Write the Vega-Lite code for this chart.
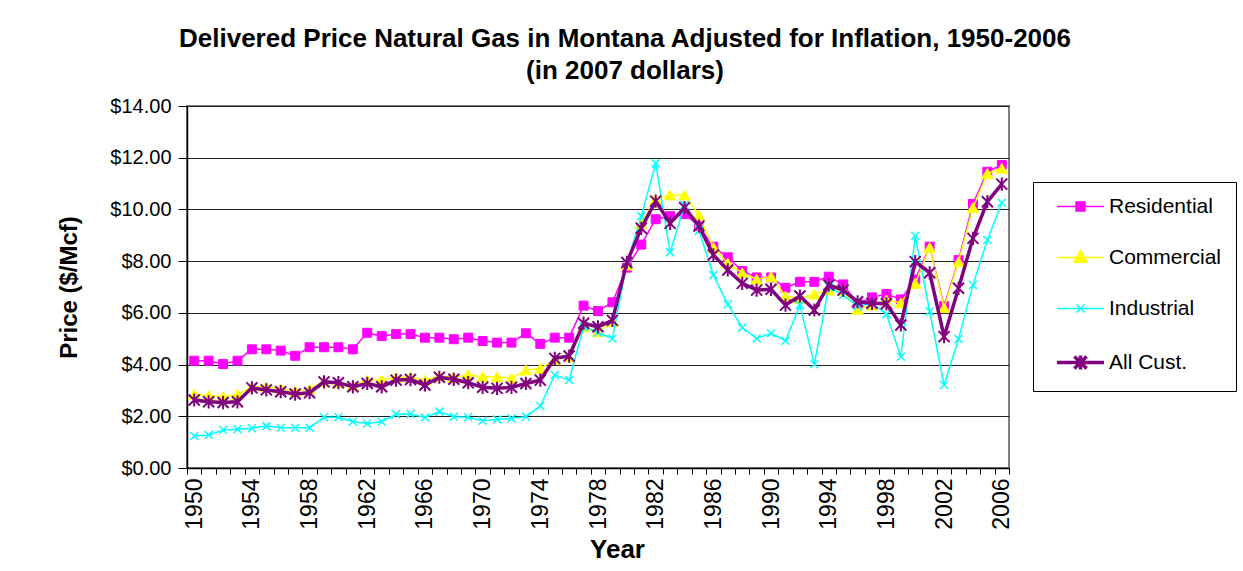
{
  "$schema": "https://vega.github.io/schema/vega-lite/v6.json",
  "width": 822,
  "height": 362,
  "autosize": {"type": "none"},
  "padding": {"left": 187, "top": 106, "right": 234, "bottom": 103},
  "background": "white",
  "title": {
    "text": ["Delivered Price Natural Gas in Montana Adjusted for Inflation, 1950-2006", "(in 2007 dollars)"],
    "font": "Liberation Sans",
    "fontSize": 26,
    "fontWeight": "bold",
    "color": "#000000",
    "anchor": "middle",
    "frame": "group",
    "dx": 27,
    "lineHeight": 32,
    "offset": 12
  },
  "config": {
    "view": {"stroke": "#808080", "strokeWidth": 2},
    "axis": {
      "labelFont": "Liberation Sans",
      "titleFont": "Liberation Sans",
      "labelColor": "#000000",
      "titleColor": "#000000",
      "domainColor": "#000000",
      "tickColor": "#000000",
      "domainWidth": 1.5,
      "tickWidth": 1
    },
    "legend": {"labelFont": "Liberation Sans"}
  },
  "data": {
    "values": [
      {"Year": 1950, "Residential": 4.15, "Commercial": 2.85, "Industrial": 1.24, "AllCust": 2.63},
      {"Year": 1951, "Residential": 4.15, "Commercial": 2.80, "Industrial": 1.28, "AllCust": 2.56},
      {"Year": 1952, "Residential": 4.02, "Commercial": 2.75, "Industrial": 1.47, "AllCust": 2.53},
      {"Year": 1953, "Residential": 4.15, "Commercial": 2.85, "Industrial": 1.50, "AllCust": 2.56},
      {"Year": 1954, "Residential": 4.59, "Commercial": 3.14, "Industrial": 1.54, "AllCust": 3.10},
      {"Year": 1955, "Residential": 4.59, "Commercial": 3.14, "Industrial": 1.62, "AllCust": 3.02},
      {"Year": 1956, "Residential": 4.54, "Commercial": 3.07, "Industrial": 1.56, "AllCust": 2.95},
      {"Year": 1957, "Residential": 4.34, "Commercial": 2.98, "Industrial": 1.56, "AllCust": 2.86},
      {"Year": 1958, "Residential": 4.67, "Commercial": 3.05, "Industrial": 1.56, "AllCust": 2.91},
      {"Year": 1959, "Residential": 4.67, "Commercial": 3.35, "Industrial": 1.96, "AllCust": 3.33},
      {"Year": 1960, "Residential": 4.67, "Commercial": 3.30, "Industrial": 1.96, "AllCust": 3.30},
      {"Year": 1961, "Residential": 4.59, "Commercial": 3.20, "Industrial": 1.79, "AllCust": 3.14},
      {"Year": 1962, "Residential": 5.23, "Commercial": 3.40, "Industrial": 1.72, "AllCust": 3.27},
      {"Year": 1963, "Residential": 5.10, "Commercial": 3.40, "Industrial": 1.79, "AllCust": 3.14},
      {"Year": 1964, "Residential": 5.18, "Commercial": 3.51, "Industrial": 2.08, "AllCust": 3.40},
      {"Year": 1965, "Residential": 5.18, "Commercial": 3.51, "Industrial": 2.09, "AllCust": 3.42},
      {"Year": 1966, "Residential": 5.04, "Commercial": 3.40, "Industrial": 1.95, "AllCust": 3.21},
      {"Year": 1967, "Residential": 5.04, "Commercial": 3.55, "Industrial": 2.18, "AllCust": 3.51},
      {"Year": 1968, "Residential": 4.98, "Commercial": 3.51, "Industrial": 1.98, "AllCust": 3.43},
      {"Year": 1969, "Residential": 5.04, "Commercial": 3.60, "Industrial": 1.96, "AllCust": 3.30},
      {"Year": 1970, "Residential": 4.91, "Commercial": 3.53, "Industrial": 1.83, "AllCust": 3.12},
      {"Year": 1971, "Residential": 4.85, "Commercial": 3.53, "Industrial": 1.88, "AllCust": 3.08},
      {"Year": 1972, "Residential": 4.85, "Commercial": 3.47, "Industrial": 1.92, "AllCust": 3.12},
      {"Year": 1973, "Residential": 5.21, "Commercial": 3.79, "Industrial": 1.98, "AllCust": 3.27},
      {"Year": 1974, "Residential": 4.80, "Commercial": 3.85, "Industrial": 2.40, "AllCust": 3.40},
      {"Year": 1975, "Residential": 5.04, "Commercial": 4.20, "Industrial": 3.60, "AllCust": 4.24},
      {"Year": 1976, "Residential": 5.04, "Commercial": 4.30, "Industrial": 3.40, "AllCust": 4.33},
      {"Year": 1977, "Residential": 6.28, "Commercial": 5.46, "Industrial": 5.46, "AllCust": 5.60},
      {"Year": 1978, "Residential": 6.07, "Commercial": 5.27, "Industrial": 5.23, "AllCust": 5.46},
      {"Year": 1979, "Residential": 6.41, "Commercial": 5.66, "Industrial": 5.01, "AllCust": 5.71},
      {"Year": 1980, "Residential": 7.75, "Commercial": 7.85, "Industrial": 7.92, "AllCust": 7.95},
      {"Year": 1981, "Residential": 8.64, "Commercial": 9.46, "Industrial": 9.74, "AllCust": 9.27},
      {"Year": 1982, "Residential": 9.62, "Commercial": 10.39, "Industrial": 11.78, "AllCust": 10.32},
      {"Year": 1983, "Residential": 9.74, "Commercial": 10.56, "Industrial": 8.34, "AllCust": 9.46},
      {"Year": 1984, "Residential": 9.82, "Commercial": 10.56, "Industrial": 10.17, "AllCust": 10.07},
      {"Year": 1985, "Residential": 9.36, "Commercial": 9.78, "Industrial": 9.18, "AllCust": 9.36},
      {"Year": 1986, "Residential": 8.56, "Commercial": 8.53, "Industrial": 7.46, "AllCust": 8.24},
      {"Year": 1987, "Residential": 8.15, "Commercial": 7.92, "Industrial": 6.33, "AllCust": 7.66},
      {"Year": 1988, "Residential": 7.62, "Commercial": 7.55, "Industrial": 5.43, "AllCust": 7.14},
      {"Year": 1989, "Residential": 7.37, "Commercial": 7.30, "Industrial": 5.01, "AllCust": 6.88},
      {"Year": 1990, "Residential": 7.37, "Commercial": 7.40, "Industrial": 5.21, "AllCust": 6.91},
      {"Year": 1991, "Residential": 6.97, "Commercial": 6.65, "Industrial": 4.92, "AllCust": 6.30},
      {"Year": 1992, "Residential": 7.20, "Commercial": 6.56, "Industrial": 6.30, "AllCust": 6.65},
      {"Year": 1993, "Residential": 7.20, "Commercial": 6.73, "Industrial": 4.01, "AllCust": 6.11},
      {"Year": 1994, "Residential": 7.40, "Commercial": 6.88, "Industrial": 7.01, "AllCust": 7.08},
      {"Year": 1995, "Residential": 7.10, "Commercial": 6.85, "Industrial": 6.69, "AllCust": 6.88},
      {"Year": 1996, "Residential": 6.35, "Commercial": 6.14, "Industrial": 6.26, "AllCust": 6.43},
      {"Year": 1997, "Residential": 6.60, "Commercial": 6.30, "Industrial": 6.37, "AllCust": 6.37},
      {"Year": 1998, "Residential": 6.73, "Commercial": 6.50, "Industrial": 5.95, "AllCust": 6.35},
      {"Year": 1999, "Residential": 6.52, "Commercial": 6.39, "Industrial": 4.30, "AllCust": 5.53},
      {"Year": 2000, "Residential": 7.29, "Commercial": 7.14, "Industrial": 8.98, "AllCust": 7.98},
      {"Year": 2001, "Residential": 8.56, "Commercial": 8.53, "Industrial": 6.05, "AllCust": 7.55},
      {"Year": 2002, "Residential": 6.26, "Commercial": 6.20, "Industrial": 3.21, "AllCust": 5.08},
      {"Year": 2003, "Residential": 8.04, "Commercial": 7.98, "Industrial": 4.99, "AllCust": 6.95},
      {"Year": 2004, "Residential": 10.21, "Commercial": 10.07, "Industrial": 7.08, "AllCust": 8.88},
      {"Year": 2005, "Residential": 11.46, "Commercial": 11.39, "Industrial": 8.82, "AllCust": 10.30},
      {"Year": 2006, "Residential": 11.72, "Commercial": 11.59, "Industrial": 10.26, "AllCust": 10.98}
    ]
  },
  "transform": [
    {"fold": ["Residential", "Commercial", "Industrial", "AllCust"], "as": ["Series", "Price"]}
  ],
  "encoding": {
    "x": {
      "field": "Year",
      "type": "ordinal",
      "bandPosition": 0.5,
      "scale": {"type": "band", "paddingInner": 0, "paddingOuter": 0},
      "axis": {
        "title": "Year",
        "titleFontSize": 26,
        "titleFontWeight": "bold",
        "titlePadding": 7,
        "titleX": 430,
        "labelAngle": 270,
        "labelFontSize": 23,
        "labelPadding": 4,
        "labelExpr": "(datum.value - 1950) % 4 == 0 ? datum.label : ''",
        "labelOverlap": false,
        "tickBand": "extent",
        "tickSize": 6,
        "grid": false
      }
    },
    "y": {
      "field": "Price",
      "type": "quantitative",
      "scale": {"domain": [0, 14], "nice": false, "zero": true},
      "axis": {
        "title": "Price ($/Mcf)",
        "titleFontSize": 24,
        "titleFontWeight": "bold",
        "titlePadding": 28,
        "values": [0, 2, 4, 6, 8, 10, 12, 14],
        "format": "$.2f",
        "labelFontSize": 20,
        "labelPadding": 7,
        "tickSize": 9,
        "grid": true,
        "gridColor": "#222222",
        "gridWidth": 1.2
      }
    },
    "color": {
      "field": "Series",
      "type": "nominal",
      "scale": {
        "domain": ["Residential", "Commercial", "Industrial", "AllCust"],
        "range": ["#FF00FF", "#FFFF00", "#00FFFF", "#800080"]
      },
      "legend": {
        "title": null,
        "orient": "none",
        "legendX": 846,
        "legendY": 76,
        "direction": "vertical",
        "padding": 14,
        "strokeColor": "#000000",
        "fillColor": "#FFFFFF",
        "labelFontSize": 21,
        "labelColor": "#000000",
        "labelOffset": 18,
        "symbolOffset": 23,
        "symbolSize": 2209,
        "symbolType": "M-1,0H1",
        "rowPadding": 29,
        "labelExpr": "datum.label == 'AllCust' ? 'All Cust.' : datum.label",
        "encode": {
          "symbols": {
            "update": {
              "shape": {"signal": "datum.value == 'Residential' ? 'M-1,0H1M-0.19,-0.19H0.19V0.19H-0.19Z' : datum.value == 'Commercial' ? 'M-1,0H1M0,-0.3L0.28,0.2H-0.28Z' : datum.value == 'Industrial' ? 'M-1,0H1M-0.17,-0.17L0.17,0.17M-0.17,0.17L0.17,-0.17' : 'M-1,0H1M-0.26,-0.26L0.26,0.26M-0.26,0.26L0.26,-0.26M0,-0.3V0.3'"},
              "fill": {"scale": "color", "field": "value"},
              "stroke": {"scale": "color", "field": "value"},
              "strokeWidth": {"signal": "datum.value == 'AllCust' ? 3.5 : 1.5"},
              "opacity": {"value": 1},
              "fillOpacity": {"value": 1},
              "strokeOpacity": {"value": 1}
            }
          }
        }
      }
    }
  },
  "layer": [
    {
      "transform": [{"filter": "datum.Series == 'Residential'"}],
      "mark": {"type": "line", "strokeWidth": 1.5}
    },
    {
      "transform": [{"filter": "datum.Series == 'Residential'"}],
      "mark": {"type": "point", "shape": "square", "size": 80, "filled": true, "opacity": 1, "stroke": "#FF00FF", "strokeWidth": 1}
    },
    {
      "transform": [{"filter": "datum.Series == 'Commercial'"}],
      "mark": {"type": "line", "strokeWidth": 1.5}
    },
    {
      "transform": [{"filter": "datum.Series == 'Commercial'"}],
      "mark": {"type": "point", "shape": "triangle-up", "size": 130, "filled": true, "opacity": 1, "stroke": "#FFFF00", "strokeWidth": 1}
    },
    {
      "transform": [{"filter": "datum.Series == 'Industrial'"}],
      "mark": {"type": "line", "strokeWidth": 1.5}
    },
    {
      "transform": [{"filter": "datum.Series == 'Industrial'"}],
      "mark": {"type": "point", "shape": "M-1,-1L1,1M-1,1L1,-1", "size": 64, "filled": true, "opacity": 1, "stroke": "#00FFFF", "strokeWidth": 1.5}
    },
    {
      "transform": [{"filter": "datum.Series == 'AllCust'"}],
      "mark": {"type": "line", "strokeWidth": 3.5}
    },
    {
      "transform": [{"filter": "datum.Series == 'AllCust'"}],
      "mark": {"type": "point", "shape": "M-1,-1L1,1M-1,1L1,-1M0,-1.2V1.2", "size": 121, "filled": true, "opacity": 1, "stroke": "#800080", "strokeWidth": 2}
    }
  ]
}
